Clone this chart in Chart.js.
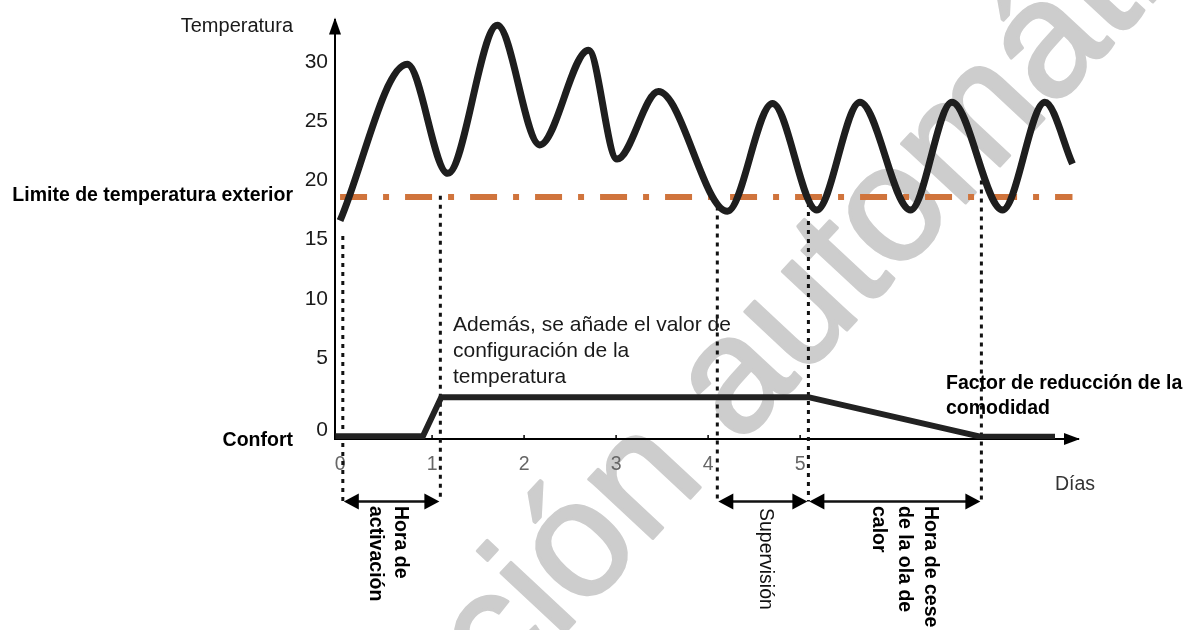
<!DOCTYPE html>
<html>
<head>
<meta charset="utf-8">
<script src="https://cdn.jsdelivr.net/npm/chart.js@4.4.1/dist/chart.umd.min.js"></script>
<style>
  body { margin: 0; background: #fff; }
  #wrap { width: 1188px; height: 630px; }
</style>
</head>
<body>
<div id="wrap"><canvas id="heatChart"></canvas></div>
<script>
// temperature curve (peaks and troughs)
const tempDays = [0.0, 0.73, 1.17, 1.71, 2.17, 2.70, 3.01, 3.46, 4.21, 4.70, 5.18, 5.65, 6.20, 6.65, 7.20, 7.66, 7.96];
const tempValues = [16.6, 29.8, 20.6, 33.1, 23.0, 31.0, 21.8, 27.5, 17.4, 26.5, 17.5, 26.6, 17.5, 26.6, 17.5, 26.6, 21.4];

// outside temperature limit
const limitDays = [0, 7.96];
const limitValue = 18.6;

// comfort / setpoint offset line
const comfortDays = [-0.05, 0.90, 1.10, 5.09, 6.97, 7.77];
const comfortValues = [-1.6, -1.6, 1.7, 1.7, -1.65, -1.65];

// dotted markers and the spans between them
const markerDays = [0.03, 1.09, 4.10, 5.09, 6.97];
const markerTops = [15.3, 18.7, 17.8, 18.1, 20.0];
const markerBottom = -7.1;
const spans = [[0.03, 1.09], [4.10, 5.09], [5.09, 6.97]];

const dayTicks = [0, 1, 2, 3, 4, 5];
const tempTicks = [0, 5, 10, 15, 20, 25, 30];

const FONT = '"Liberation Sans", Arial, sans-serif';

const datasets = [];
datasets.push({
  data: tempDays.map((d, i) => ({ x: d, y: tempValues[i] })),
  borderColor: '#1e1e1e',
  borderWidth: 7,
  cubicInterpolationMode: 'monotone',
  pointRadius: 0,
  borderCapStyle: 'butt',
  order: 1
});
datasets.push({
  data: limitDays.map(d => ({ x: d, y: limitValue })),
  borderColor: '#d0743c',
  borderWidth: 6,
  borderDash: [27, 16, 6, 16],
  pointRadius: 0,
  order: 2
});
datasets.push({
  data: comfortDays.map((d, i) => ({ x: d, y: comfortValues[i] })),
  borderColor: '#222',
  borderWidth: 6,
  tension: 0,
  pointRadius: 0,
  order: 1
});
markerDays.forEach((d, i) => {
  datasets.push({
    data: [{ x: d, y: markerTops[i] }, { x: d, y: markerBottom }],
    borderColor: '#111',
    borderWidth: 3,
    borderDash: [4, 5],
    pointRadius: 0,
    clip: false,
    order: 3
  });
});
spans.forEach(s => {
  datasets.push({
    data: [{ x: s[0] + 0.12, y: markerBottom }, { x: s[1] - 0.12, y: markerBottom }],
    borderColor: '#111',
    borderWidth: 2.5,
    pointRadius: 0,
    clip: false,
    order: 3
  });
});

function arrowHead(ctx, x, y, dir, len, half) {
  // dir: 'left' | 'right' | 'up'
  ctx.beginPath();
  if (dir === 'right') {
    ctx.moveTo(x, y); ctx.lineTo(x - len, y - half); ctx.lineTo(x - len, y + half);
  } else if (dir === 'left') {
    ctx.moveTo(x, y); ctx.lineTo(x + len, y - half); ctx.lineTo(x + len, y + half);
  } else {
    ctx.moveTo(x, y); ctx.lineTo(x - half, y + len); ctx.lineTo(x + half, y + len);
  }
  ctx.closePath();
  ctx.fill();
}

function vText(ctx, lines, xRight, yTop, font, lh) {
  ctx.save();
  ctx.translate(xRight, yTop);
  ctx.rotate(Math.PI / 2);
  ctx.font = font;
  ctx.textAlign = 'left';
  ctx.textBaseline = 'top';
  lines.forEach((t, i) => ctx.fillText(t, 0, i * lh));
  ctx.restore();
}

const watermark = {
  id: 'watermark',
  beforeDraw(chart) {
    const ctx = chart.ctx;
    ctx.save();
    ctx.translate(155, 1072);
    ctx.rotate(-47 * Math.PI / 180);
    ctx.font = '165px ' + FONT;
    ctx.fillStyle = '#cdcdcd';
    ctx.strokeStyle = '#cdcdcd';
    ctx.lineWidth = 3;
    ctx.lineJoin = 'round';
    ctx.fillText('Traducción automática', 0, 0);
    ctx.strokeText('Traducción automática', 0, 0);
    ctx.restore();
  }
};

const annotations = {
  id: 'annotations',
  afterDraw(chart) {
    const ctx = chart.ctx;
    const xs = chart.scales.x, ys = chart.scales.y;
    const area = chart.chartArea;
    ctx.save();
    ctx.fillStyle = '#000';

    // axis arrows
    arrowHead(ctx, area.left, area.top - 2, 'up', 17, 6);
    arrowHead(ctx, area.right + 2, area.bottom, 'right', 16, 6);

    // small tick marks above the day axis
    ctx.strokeStyle = '#000';
    ctx.lineWidth = 1.5;
    dayTicks.slice(1).forEach(v => {
      const px = xs.getPixelForValue(v);
      ctx.beginPath();
      ctx.moveTo(px, area.bottom - 4);
      ctx.lineTo(px, area.bottom);
      ctx.stroke();
    });

    // span arrows
    const yArr = ys.getPixelForValue(markerBottom);
    spans.forEach(s => {
      arrowHead(ctx, xs.getPixelForValue(s[0]) + 1, yArr, 'left', 15, 8);
      arrowHead(ctx, xs.getPixelForValue(s[1]) - 1, yArr, 'right', 15, 8);
    });

    // side labels
    ctx.fillStyle = '#1a1a1a';
    ctx.textAlign = 'right';
    ctx.textBaseline = 'middle';
    ctx.font = '20px ' + FONT;
    ctx.fillText('Temperatura', 293, 26);
    ctx.font = 'bold 19.5px ' + FONT;
    ctx.fillStyle = '#000';
    ctx.fillText('Limite de temperatura exterior', 293, 196);
    ctx.fillText('Confort', 293, 441);

    ctx.textAlign = 'left';
    ctx.fillStyle = '#333';
    ctx.font = '19.5px ' + FONT;
    ctx.fillText('Días', 1055, 485);

    ctx.fillStyle = '#1a1a1a';
    ctx.font = '21px ' + FONT;
    ctx.fillText('Además, se añade el valor de', 453, 325);
    ctx.fillText('configuración de la', 453, 351);
    ctx.fillText('temperatura', 453, 377);

    ctx.fillStyle = '#000';
    ctx.font = 'bold 19.5px ' + FONT;
    ctx.fillText('Factor de reducción de la', 946, 384);
    ctx.fillText('comodidad', 946, 409);

    // rotated labels under the spans
    vText(ctx, ['Hora de', 'activación'], 410, 506, 'bold 19.5px ' + FONT, 25);
    ctx.fillStyle = '#111';
    vText(ctx, ['Supervisión'], 775, 508, '19.5px ' + FONT, 25);
    ctx.fillStyle = '#000';
    vText(ctx, ['Hora de cese', 'de la ola de', 'calor'], 940, 506, 'bold 19.5px ' + FONT, 26);
    ctx.restore();
  }
};

new Chart(document.getElementById('heatChart'), {
  type: 'line',
  data: { datasets: datasets },
  options: {
    responsive: true,
    maintainAspectRatio: false,
    animation: false,
    layout: { padding: { top: 14, right: 110, left: 0, bottom: 0 } },
    plugins: { legend: { display: false }, tooltip: { enabled: false } },
    scales: {
      x: {
        type: 'linear',
        min: -0.055,
        max: 8.02,
        afterBuildTicks: s => { s.ticks = dayTicks.map(v => ({ value: v })); },
        afterFit: s => { s.height = 191; },
        grid: { display: false, drawTicks: false },
        border: { display: true, color: '#000', width: 2 },
        ticks: { color: '#666', font: { family: FONT, size: 19.5 }, padding: 14, maxRotation: 0 }
      },
      y: {
        type: 'linear',
        min: -1.83,
        max: 33.58,
        afterBuildTicks: s => { s.ticks = tempTicks.map(v => ({ value: v })); },
        afterFit: s => { s.width = 335; },
        grid: { display: false, drawTicks: false },
        border: { display: true, color: '#000', width: 2 },
        ticks: {
          color: '#1a1a1a',
          font: { family: FONT, size: 21 },
          padding: 7,
          // the "0" label sits a little lower in the original, next to the comfort line
          callback: v => (v === 0 ? ['', '0'] : String(v))
        }
      }
    }
  },
  plugins: [watermark, annotations]
});
</script>
</body>
</html>
